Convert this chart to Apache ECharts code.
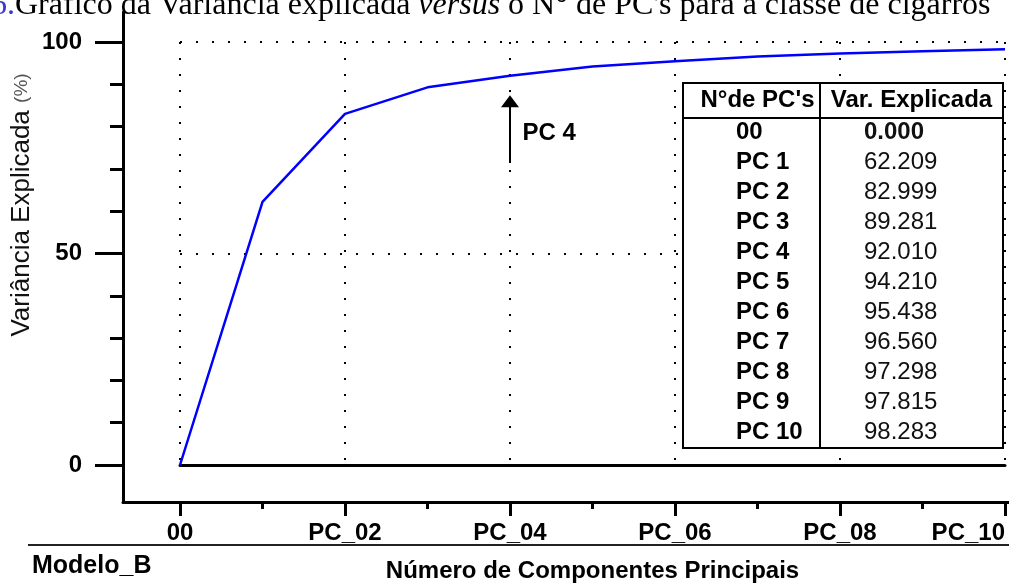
<!DOCTYPE html>
<html>
<head>
<meta charset="utf-8">
<script src="https://cdn.jsdelivr.net/npm/echarts@6.0.0/dist/echarts.min.js"></script>
<style>
  html, body { margin: 0; padding: 0; background: #fff; }
  #chart { width: 1009px; height: 588px; }
</style>
</head>
<body>
<div id="chart"></div>
<script>
// Cumulative explained variance per number of principal components
const pcIndex = [0, 1, 2, 3, 4, 5, 6, 7, 8, 9, 10];
const pcNames = ['00', 'PC 1', 'PC 2', 'PC 3', 'PC 4', 'PC 5', 'PC 6', 'PC 7', 'PC 8', 'PC 9', 'PC 10'];
const varExplicada = [0.000, 62.209, 82.999, 89.281, 92.010, 94.210, 95.438, 96.560, 97.298, 97.815, 98.283];

// Axis ticks and labels
const xMajorTicks = [0, 2, 4, 6, 8, 10];
const xMinorTicks = [1, 3, 5, 7, 9];
const xTickLabels = ['00', 'PC_02', 'PC_04', 'PC_06', 'PC_08', 'PC_10'];
const yMajorTicks = [0, 50, 100];
const yMinorTicks = [10, 20, 30, 40, 60, 70, 80, 90];

// Texts
const captionText = "Gráfico da Variância explicada {i|versus} o N° de PC's para a classe de cigarros";
const captionNumber = '6.';
const xTitle = 'Número de Componentes Principais';
const yTitle = 'Variância Explicada';
const yUnit = '(%)';
const modelName = 'Modelo_B';
const tableHeader = ["N°de PC's", 'Var. Explicada'];

// Highlighted component and its arrow span (in % units)
const highlightIndex = 4;
const arrowFrom = 71.4;
const arrowTo = 86.0;
const arrowLabelAt = 78.5;

const SANS = '"Liberation Sans", Arial, sans-serif';
const SERIF = '"Liberation Serif", "Times New Roman", serif';

// Plot-area scale: 0..10 over 180..1005 px, 0..100 over 465..42 px
const pxPerX = 82.5, pxPerY = 4.23;
const frame = { left: 123, top: 12, right: 1009, bottom: 502 };
const plot = { left: 180, top: 42, right: 1005, bottom: 465 };
const frameXMin = -(plot.left - frame.left) / pxPerX;
const frameXMax = 10 + (frame.right - plot.right) / pxPerX;
const frameYMin = -(frame.bottom - plot.bottom) / pxPerY;
const frameYMax = 100 + (plot.top - frame.top) / pxPerY;

const dotted = { color: '#000', width: 2, type: [2, 14] };
const black3 = { color: '#000', width: 3 };

// Inset table
const tbl = { left: 683, top: 83, right: 1003, bottom: 448, split: 820, headBottom: 118,
              firstRow: 132.5, rowStep: 30, col1X: 736, col2X: 864 };
const tableGraphics = [
  { type: 'rect', z: 100, shape: { x: tbl.left, y: tbl.top, width: tbl.right - tbl.left, height: tbl.bottom - tbl.top },
    style: { fill: '#fff', stroke: '#000', lineWidth: 2 } },
  { type: 'line', z: 101, shape: { x1: tbl.split, y1: tbl.top, x2: tbl.split, y2: tbl.bottom },
    style: { stroke: '#000', lineWidth: 2 } },
  { type: 'line', z: 101, shape: { x1: tbl.left, y1: tbl.headBottom, x2: tbl.right, y2: tbl.headBottom },
    style: { stroke: '#000', lineWidth: 2 } },
  { type: 'text', z: 102, x: (tbl.left + tbl.split) / 2 + 6, y: (tbl.top + tbl.headBottom) / 2,
    style: { text: tableHeader[0], font: 'bold 24px ' + SANS, fill: '#000', align: 'center', verticalAlign: 'middle' } },
  { type: 'text', z: 102, x: (tbl.split + tbl.right) / 2, y: (tbl.top + tbl.headBottom) / 2,
    style: { text: tableHeader[1], font: 'bold 24px ' + SANS, fill: '#000', align: 'center', verticalAlign: 'middle' } }
];
pcNames.forEach(function (name, i) {
  const y = tbl.firstRow + i * tbl.rowStep;
  tableGraphics.push({ type: 'text', z: 102, x: tbl.col1X, y: y,
    style: { text: name, font: 'bold 24px ' + SANS, fill: '#000', align: 'left', verticalAlign: 'middle' } });
  tableGraphics.push({ type: 'text', z: 102, x: tbl.col2X, y: y,
    style: { text: varExplicada[i].toFixed(3), font: (i === 0 ? 'bold ' : '') + '24px ' + SANS,
             fill: '#111', align: 'left', verticalAlign: 'middle' } });
});

const chart = echarts.init(document.getElementById('chart'), null, { renderer: 'canvas' });

const option = {
  animation: false,
  backgroundColor: '#fff',
  grid: [
    { left: plot.left, right: 1009 - plot.right, top: plot.top, bottom: 588 - plot.bottom },
    { left: frame.left, right: 1009 - frame.right, top: frame.top, bottom: 588 - frame.bottom }
  ],
  xAxis: [
    { // plot area: dotted verticals + solid baseline at 0
      gridIndex: 0, type: 'value', position: 'bottom', min: 0, max: 10, interval: 2,
      axisLine: { show: true, onZero: false, lineStyle: black3 },
      axisTick: { show: false }, axisLabel: { show: false },
      splitLine: { show: true, lineStyle: dotted },
      name: xTitle, nameLocation: 'middle', nameGap: 94,
      nameTextStyle: { fontFamily: SANS, fontSize: 24, fontWeight: 'bold', color: '#000' }
    },
    { // outer axis with major ticks and labels
      gridIndex: 1, type: 'value', position: 'bottom', min: frameXMin, max: frameXMax,
      axisLine: { show: true, onZero: false, lineStyle: black3 },
      axisTick: { show: true, customValues: xMajorTicks, length: 14, lineStyle: black3 },
      axisLabel: {
        show: true, customValues: xMajorTicks, margin: 19, alignMaxLabel: 'right',
        formatter: function (v) { return xTickLabels[xMajorTicks.indexOf(Math.round(v))]; },
        fontFamily: SANS, fontSize: 24, fontWeight: 'bold', color: '#000'
      },
      splitLine: { show: false }
    },
    { // outer axis minor ticks
      gridIndex: 1, type: 'value', position: 'bottom', offset: 0, min: frameXMin, max: frameXMax,
      axisLine: { show: false, onZero: false },
      axisTick: { show: true, customValues: xMinorTicks, length: 7, lineStyle: black3 },
      axisLabel: { show: false }, splitLine: { show: false }
    }
  ],
  yAxis: [
    {
      gridIndex: 0, type: 'value', position: 'left', min: 0, max: 100, interval: 50,
      axisLine: { show: false }, axisTick: { show: false }, axisLabel: { show: false },
      splitLine: { show: true, lineStyle: dotted }
    },
    {
      gridIndex: 1, type: 'value', position: 'left', min: frameYMin, max: frameYMax,
      axisLine: { show: true, onZero: false, lineStyle: black3 },
      axisTick: { show: true, customValues: yMajorTicks, length: 28, lineStyle: black3 },
      axisLabel: {
        show: true, customValues: yMajorTicks, margin: 41,
        fontFamily: SANS, fontSize: 24, fontWeight: 'bold', color: '#000'
      },
      splitLine: { show: false }
    },
    {
      gridIndex: 1, type: 'value', position: 'left', offset: 0, min: frameYMin, max: frameYMax,
      axisLine: { show: false, onZero: false },
      axisTick: { show: true, customValues: yMinorTicks, length: 13, lineStyle: black3 },
      axisLabel: { show: false }, splitLine: { show: false }
    }
  ],
  series: [
    {
      type: 'line', xAxisIndex: 0, yAxisIndex: 0,
      data: pcIndex.map(function (x, i) { return [x, varExplicada[i]]; }),
      showSymbol: false, symbol: 'none',
      lineStyle: { color: '#0000ff', width: 2.5 },
      z: 5, silent: true,
      markLine: {
        silent: true, animation: false,
        symbol: ['none', 'triangle'], symbolSize: [18, 12],
        lineStyle: { color: '#000', width: 2, type: 'solid' },
        label: { show: false },
        data: [[{ coord: [pcIndex[highlightIndex], arrowFrom] }, { coord: [pcIndex[highlightIndex], arrowTo] }]]
      },
      markPoint: {
        silent: true, animation: false,
        symbol: 'circle', symbolSize: 1,
        itemStyle: { color: 'rgba(0,0,0,0)' },
        label: { show: true, position: 'right', distance: 12, formatter: pcNames[highlightIndex],
                 fontFamily: SANS, fontSize: 24, fontWeight: 'bold', color: '#000' },
        data: [{ coord: [pcIndex[highlightIndex], arrowLabelAt] }]
      }
    }
  ],
  graphic: [
    { type: 'text', z: 100, x: -9, y: 6,
      style: { text: '{n|' + captionNumber + '}' + captionText, fontFamily: SERIF, fontSize: 32, fill: '#000',
               verticalAlign: 'middle', align: 'left',
               rich: { n: { fill: '#3a3ad0', fontFamily: SERIF, fontSize: 32 },
                       i: { fontStyle: 'italic', fontFamily: SERIF, fontSize: 32, fill: '#000' } } } },
    { type: 'text', z: 100, x: 22, y: 205, rotation: Math.PI / 2,
      style: { text: yTitle + ' {u|' + yUnit + '}', fontFamily: SANS, fontSize: 26, fill: '#111',
               align: 'center', verticalAlign: 'middle',
               rich: { u: { fontFamily: SANS, fontSize: 19, fill: '#555' } } } },
    { type: 'line', z: 100, shape: { x1: 28, y1: 545, x2: 1009, y2: 545 },
      style: { stroke: '#222', lineWidth: 2 } },
    { type: 'text', z: 100, x: 32, y: 566,
      style: { text: modelName, font: 'bold 25px ' + SANS, fill: '#000', align: 'left', verticalAlign: 'middle' } }
  ].concat(tableGraphics)
};

chart.setOption(option);
</script>
</body>
</html>
